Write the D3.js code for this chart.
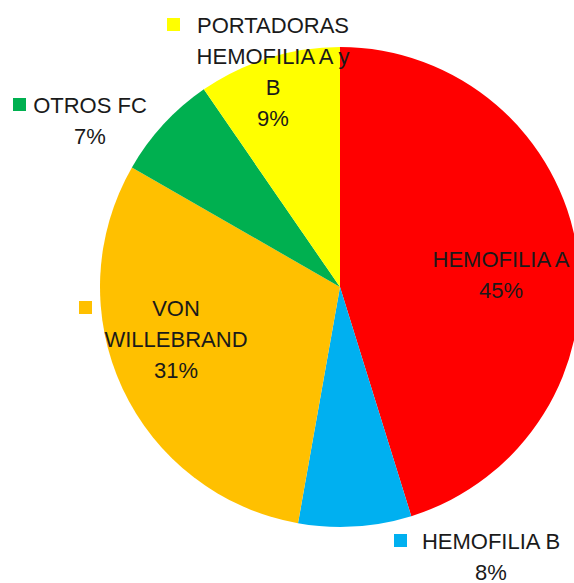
<!DOCTYPE html>
<html lang="es">
<head>
    <meta charset="utf-8"/>
    <title>Distribución de diagnósticos</title>
    <script src="https://d3js.org/d3.v7.min.js"></script>
    <style>
        body { margin: 0; background: #fff; }
        text { font-family: "Liberation Sans", Arial, sans-serif; }
    </style>
</head>
<body>
<div id="viz">
    <svg width="574" height="583"></svg>
</div>

<script type="text/javascript">

    // datos del gráfico
    const categorias = ["HEMOFILIA A", "HEMOFILIA B", "VON WILLEBRAND", "OTROS FC", "PORTADORAS HEMOFILIA A y B"];
    const porcentajes = [45.2, 7.6, 30.5, 7.1, 9.6];
    const etiquetasPct = ["45%", "8%", "31%", "7%", "9%"];
    const colores = ["#ff0000", "#00b0f0", "#ffc000", "#00b050", "#ffff00"];

    // como se parte cada etiqueta en lineas
    const lineasEtiqueta = [
        ["HEMOFILIA A"],
        ["HEMOFILIA B"],
        ["VON", "WILLEBRAND"],
        ["OTROS FC"],
        ["PORTADORAS", "HEMOFILIA A y", "B"]
    ];

    // posicion de cada etiqueta: centro x, linea base de la primera linea, desplazamiento del cuadrado
    const posEtiqueta = [
        {x: 501, y: 267, dq: -96},
        {x: 491, y: 549, dq: -97},
        {x: 176, y: 316, dq: -97},
        {x: 90, y: 113, dq: -77},
        {x: 273, y: 33, dq: -106}
    ];

    const cx = 340, cy = 287, radio = 240;
    const altoLinea = 31;

    const datos = categorias.map((c, i) => ({cat: c, valor: porcentajes[i], i: i}));

    const color = d3.scaleOrdinal().domain(categorias).range(colores);

    const pie = d3.pie()
        .value(d => d.valor)
        .sort(null);

    const arco = d3.arc()
        .innerRadius(0)
        .outerRadius(radio);

    const svg = d3.select("svg");

    // las tajadas
    svg.append("g")
        .attr("transform", "translate(" + cx + "," + cy + ")")
        .selectAll("path")
        .data(pie(datos))
        .enter()
        .append("path")
        .attr("d", arco)
        .attr("fill", d => color(d.data.cat));

    // etiquetas con su cuadrado de color
    const grupos = svg.append("g")
        .selectAll("g")
        .data(datos)
        .enter()
        .append("g")
        .attr("transform", d => "translate(" + posEtiqueta[d.i].x + "," + posEtiqueta[d.i].y + ")");

    grupos.append("rect")
        .attr("x", d => posEtiqueta[d.i].dq)
        .attr("y", -15)
        .attr("width", 13)
        .attr("height", 13)
        .attr("fill", d => color(d.cat));

    grupos.append("text")
        .attr("text-anchor", "middle")
        .style("font-size", "22px")
        .attr("fill", "#1a1a1a")
        .selectAll("tspan")
        .data(d => lineasEtiqueta[d.i].concat([etiquetasPct[d.i]]))
        .enter()
        .append("tspan")
        .attr("x", 0)
        .attr("y", (d, j) => j * altoLinea)
        .text(d => d);

</script>
</body>
</html>
